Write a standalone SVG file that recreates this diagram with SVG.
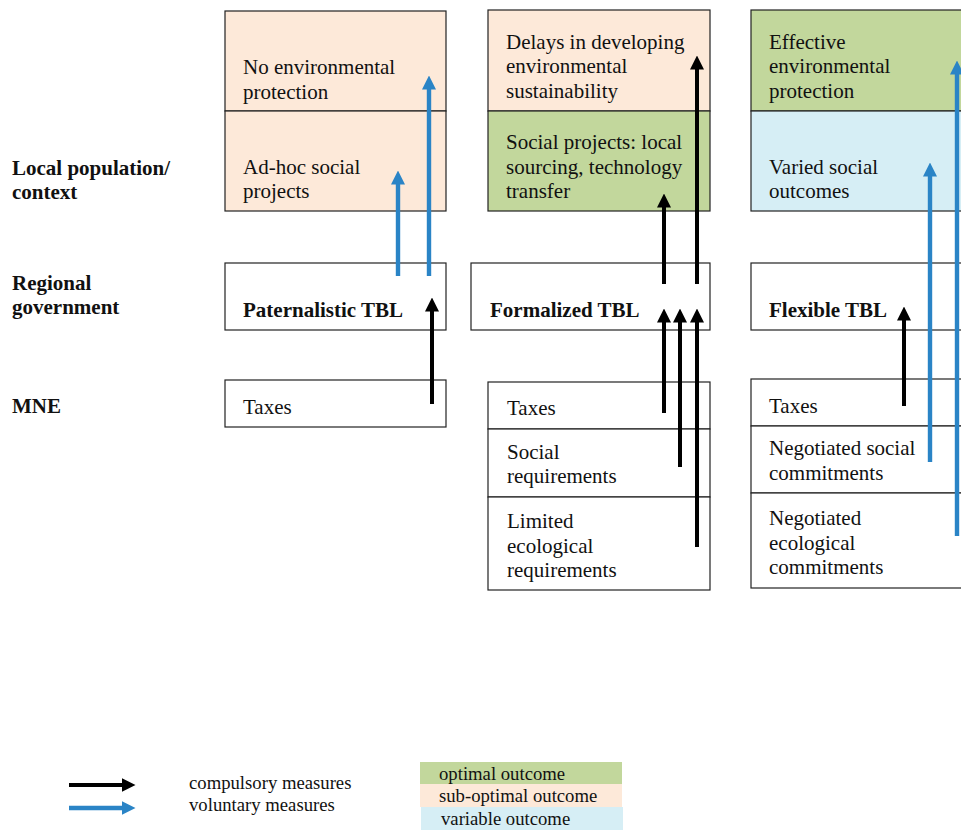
<svg xmlns="http://www.w3.org/2000/svg" width="961" height="830" viewBox="0 0 961 830">
<style>
text{font-family:"Liberation Serif","Times New Roman",serif;font-size:21px;fill:#111}
.b{font-weight:bold}
.lg{font-size:18.7px}
.cell{stroke:#222;stroke-width:1.2}
.w{fill:#fff}
.pe{fill:#FDE9D9}
.gr{fill:#C2D79C}
.bl{fill:#D6EEF5}
.ka{stroke:#000;stroke-width:4;fill:none}
.ua{stroke:#2A84C6;stroke-width:4.4;fill:none}
</style>
<defs>
<marker id="hk" viewBox="0 0 14 14" markerWidth="14" markerHeight="14" refX="0.5" refY="7" orient="auto" markerUnits="userSpaceOnUse"><path d="M0,0 L14,7 L0,14 z" fill="#000"/></marker>
<marker id="hu" viewBox="0 0 14 14" markerWidth="14" markerHeight="14" refX="0.5" refY="7" orient="auto" markerUnits="userSpaceOnUse"><path d="M0,0 L14,7 L0,14 z" fill="#2A84C6"/></marker>
</defs>
<rect width="961" height="830" fill="#fff"/>

<g id="row-labels">
<text class="b" x="12" y="175">Local population/</text>
<text class="b" x="12" y="199">context</text>
<text class="b" x="12" y="290">Regional</text>
<text class="b" x="12" y="314">government</text>
<text class="b" x="12" y="413">MNE</text>
</g>

<g id="outcome-paternalistic">
<rect class="cell pe" x="225" y="11" width="221" height="100"/>
<rect class="cell pe" x="225" y="111" width="221" height="100"/>
<text x="243" y="74">No environmental</text>
<text x="243" y="99">protection</text>
<text x="243" y="174">Ad-hoc social</text>
<text x="243" y="198">projects</text>
</g>

<g id="outcome-formalized">
<rect class="cell pe" x="488" y="10" width="222" height="101"/>
<rect class="cell gr" x="488" y="111" width="222" height="100"/>
<text x="506" y="49">Delays in developing</text>
<text x="506" y="73">environmental</text>
<text x="506" y="98">sustainability</text>
<text x="506" y="149">Social projects: local</text>
<text x="506" y="174">sourcing, technology</text>
<text x="506" y="198">transfer</text>
</g>

<g id="outcome-flexible">
<rect class="cell gr" x="751" y="10" width="230" height="101"/>
<rect class="cell bl" x="751" y="111" width="230" height="100"/>
<text x="769" y="49">Effective</text>
<text x="769" y="73">environmental</text>
<text x="769" y="98">protection</text>
<text x="769" y="174">Varied social</text>
<text x="769" y="198">outcomes</text>
</g>

<g id="gov-paternalistic">
<rect class="cell w" x="225" y="263" width="221" height="67"/>
<text class="b" x="243" y="317">Paternalistic TBL</text>
</g>
<g id="gov-formalized">
<rect class="cell w" x="471" y="263" width="239" height="67"/>
<text class="b" x="490" y="317">Formalized TBL</text>
</g>
<g id="gov-flexible">
<rect class="cell w" x="751" y="263" width="230" height="67"/>
<text class="b" x="769" y="317">Flexible TBL</text>
</g>

<g id="mne-paternalistic">
<rect class="cell w" x="225" y="380" width="221" height="47"/>
<text x="243" y="414">Taxes</text>
</g>
<g id="mne-formalized">
<rect class="cell w" x="488" y="382" width="222" height="47"/>
<rect class="cell w" x="488" y="429" width="222" height="68"/>
<rect class="cell w" x="488" y="497" width="222" height="93"/>
<text x="507" y="415">Taxes</text>
<text x="507" y="459">Social</text>
<text x="507" y="483">requirements</text>
<text x="507" y="528">Limited</text>
<text x="507" y="553">ecological</text>
<text x="507" y="577">requirements</text>
</g>
<g id="mne-flexible">
<rect class="cell w" x="751" y="379" width="230" height="47"/>
<rect class="cell w" x="751" y="426" width="230" height="67"/>
<rect class="cell w" x="751" y="493" width="230" height="95"/>
<text x="769" y="413">Taxes</text>
<text x="769" y="455">Negotiated social</text>
<text x="769" y="480">commitments</text>
<text x="769" y="525">Negotiated</text>
<text x="769" y="550">ecological</text>
<text x="769" y="574">commitments</text>
</g>

<g id="connectors">
<line class="ka" x1="432" y1="404" x2="432" y2="311" marker-end="url(#hk)"/>
<line class="ka" x1="664" y1="284" x2="664" y2="207" marker-end="url(#hk)"/>
<line class="ka" x1="697" y1="284" x2="697" y2="69" marker-end="url(#hk)"/>
<line class="ka" x1="664" y1="413" x2="664" y2="322" marker-end="url(#hk)"/>
<line class="ka" x1="680" y1="467" x2="680" y2="322" marker-end="url(#hk)"/>
<line class="ka" x1="697" y1="547" x2="697" y2="322" marker-end="url(#hk)"/>
<line class="ka" x1="904" y1="406" x2="904" y2="320" marker-end="url(#hk)"/>
<line class="ua" x1="398" y1="276" x2="398" y2="184" marker-end="url(#hu)"/>
<line class="ua" x1="429" y1="276" x2="429" y2="89" marker-end="url(#hu)"/>
<line class="ua" x1="930" y1="462" x2="930" y2="176" marker-end="url(#hu)"/>
<line class="ua" x1="957" y1="536" x2="957" y2="74" marker-end="url(#hu)"/>
</g>

<g id="legend">
<line class="ka" x1="69" y1="785" x2="122" y2="785" marker-end="url(#hk)"/>
<line class="ua" x1="69" y1="808" x2="122" y2="808" marker-end="url(#hu)"/>
<text class="lg" x="189" y="789">compulsory measures</text>
<text class="lg" x="189" y="811">voluntary measures</text>
<rect class="gr" x="420" y="762" width="202" height="22"/>
<rect class="pe" x="420" y="784" width="202" height="23"/>
<rect class="bl" x="421" y="807" width="202" height="23"/>
<text class="lg" x="439" y="780">optimal outcome</text>
<text class="lg" x="439" y="802">sub-optimal outcome</text>
<text class="lg" x="441" y="825">variable outcome</text>
</g>
</svg>
